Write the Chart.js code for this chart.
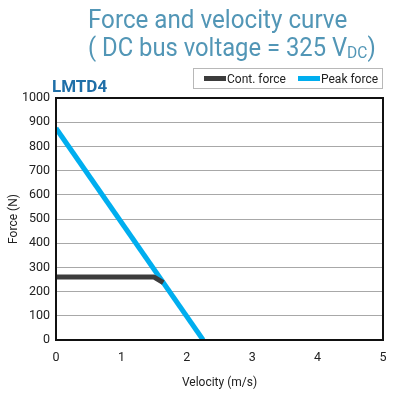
<!DOCTYPE html>
<html><head><meta charset="utf-8">
<script src="https://cdn.jsdelivr.net/npm/chart.js@4/dist/chart.umd.min.js"></script>
<style>
html,body{margin:0;padding:0;background:#fff;}
#wrap{position:relative;width:402px;height:396px;overflow:hidden;font-family:Roboto,"Noto Sans",sans-serif;}
canvas{position:absolute;left:0;top:0;}
.t{position:absolute;left:88px;color:#5296b6;font-size:26px;white-space:nowrap;line-height:1;transform-origin:0 0;}
#t1{top:6px;transform:scaleX(0.93);}
#t2{top:34px;transform:scaleX(0.915);}
#t2 sub{font-size:17px;vertical-align:-2px;}
#lm{position:absolute;left:52px;top:76px;font-weight:bold;font-size:17px;color:#1f6fa8;}
#leg{position:absolute;left:193px;top:68px;width:190px;height:21px;border:1px solid #b8b8b8;font-size:12px;color:#222;box-sizing:border-box;}
.li{position:absolute;top:3px;white-space:nowrap;}
.sw{display:inline-block;width:22px;height:5px;vertical-align:middle;margin-right:1px;position:relative;top:-1px;}
</style></head>
<body><div id="wrap">
<canvas id="c" width="402" height="396"></canvas>
<div class="t" id="t1">Force and velocity curve</div>
<div class="t" id="t2">( DC bus voltage = 325 V<sub>DC</sub>)</div>
<div id="lm">LMTD4</div>
<div id="leg"></div>
</div>
<script>
const seriesNames = ["Cont. force", "Peak force"];
const seriesColors = ["#3c3c3c", "#00aeef"];
const contVelocity = [0, 1.5, 1.64];
const contForce = [260, 260, 237];
const peakVelocity = [0, 2.25];
const peakForce = [875, 0];
const xTicks = [0, 1, 2, 3, 4, 5];
const yTicks = [0, 100, 200, 300, 400, 500, 600, 700, 800, 900, 1000];

const leg = document.getElementById('leg');
const legPos = [10, 104];
seriesNames.forEach((n, i) => {
  const d = document.createElement('div');
  d.className = 'li';
  d.style.left = legPos[i] + 'px';
  d.innerHTML = '<span class="sw" style="background:' + seriesColors[i] + '"></span>' + n;
  leg.appendChild(d);
});

const toPts = (xs, ys) => xs.map((x, i) => ({x: x, y: ys[i]}));

const borderPlugin = {
  id: 'border',
  afterDatasetsDraw(chart) {
    const a = chart.chartArea, ctx = chart.ctx;
    ctx.save();
    ctx.strokeStyle = '#111';
    ctx.lineWidth = 2;
    ctx.strokeRect(a.left, a.top, a.right - a.left, a.bottom - a.top);
    ctx.restore();
  }
};

new Chart(document.getElementById('c'), {
  type: 'scatter',
  data: {
    datasets: [
      {label: seriesNames[0], data: toPts(contVelocity, contForce), showLine: true, borderColor: seriesColors[0], borderWidth: 5, pointRadius: 0, tension: 0, borderJoinStyle: 'round'},
      {label: seriesNames[1], data: toPts(peakVelocity, peakForce), showLine: true, borderColor: seriesColors[1], borderWidth: 5, pointRadius: 0, tension: 0}
    ]
  },
  options: {
    responsive: false,
    animation: false,
    layout: {padding: {left: 3, right: 19, top: 98, bottom: 2}},
    plugins: {legend: {display: false}, tooltip: {enabled: false}},
    scales: {
      x: {
        type: 'linear', min: 0, max: 5,
        afterBuildTicks: s => { s.ticks = xTicks.map(v => ({value: v})); },
        afterFit: s => { s.height = 54; },
        grid: {display: false, drawTicks: false},
        border: {display: false},
        ticks: {color: '#222', font: {family: 'Roboto', size: 12.5}, padding: 10, callback: v => String(v)},
        title: {display: true, text: 'Velocity (m/s)', color: '#222', font: {family: 'Roboto', size: 12}, padding: {top: 12}}
      },
      y: {
        type: 'linear', min: 0, max: 1000,
        afterBuildTicks: s => { s.ticks = yTicks.map(v => ({value: v})); },
        afterFit: s => { s.width = 53; },
        grid: {color: '#a8a8a8', lineWidth: 1, drawTicks: false},
        border: {display: false},
        ticks: {color: '#222', font: {family: 'Roboto', size: 12.5}, padding: 6, callback: v => String(v)},
        title: {display: true, text: 'Force (N)', color: '#222', font: {family: 'Roboto', size: 12}, padding: {bottom: 4}}
      }
    }
  },
  plugins: [borderPlugin]
});
</script>
</body></html>
